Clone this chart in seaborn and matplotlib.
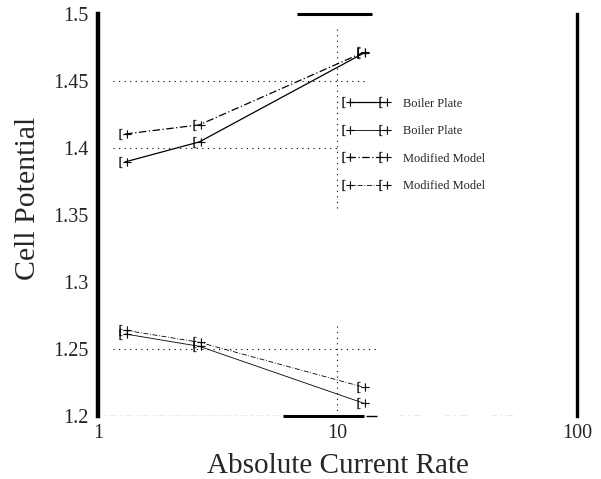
import matplotlib
matplotlib.use("Agg")
import matplotlib.pyplot as plt
import numpy as np
import pandas as pd
import seaborn as sns

# values
rate = [1.3, 2.65, 12.8]
bp_high = [1.3896, 1.4045, 1.4705]
mm_high = [1.4104, 1.4172, 1.4712]
bp_low = [1.2612, 1.2520, 1.2097]
mm_low = [1.2640, 1.2550, 1.2216]
series_names = ["Boiler Plate", "Boiler Plate", "Modified Model", "Modified Model"]

yticks = [1.2, 1.25, 1.3, 1.35, 1.4, 1.45, 1.5]
ytick_labels = ["1.2", "1.25", "1.3", "1.35", "1.4", "1.45", "1.5"]
xticks = [1, 10, 100]
xtick_labels = ["1", "10", "100"]

sns.set_style("white")
plt.rcParams["font.family"] = ["Liberation Serif", "DejaVu Serif"]
plt.rcParams["mathtext.fontset"] = "stix"

fig = plt.figure(figsize=(6.01, 4.79), dpi=100)
ax = fig.add_axes([0.163, 0.1315, 0.797, 0.8395])

all_series = [bp_high, bp_low, mm_high, mm_low]
styles = ["-", "-", (0, (6, 2, 1, 2)), (0, (6, 2, 1, 2))]
widths = [0.9, 0.6, 0.9, 0.6]
for vals, name, ls, lw in zip(all_series, series_names, styles, widths):
    df = pd.DataFrame({"rate": rate, "potential": vals})
    sns.lineplot(data=df, x="rate", y="potential", ax=ax, color="black",
                 linestyle=ls, linewidth=lw, marker="$[+$", markersize=8.5,
                 markeredgewidth=0.2, markeredgecolor="black",
                 markerfacecolor="black", label=name)

# dotted guide lines
ax.hlines([1.45], 1.15, 13.2, colors="black", linestyles=(0, (1, 4)), linewidth=0.8)
ax.hlines([1.40], 1.15, 10.0, colors="black", linestyles=(0, (1, 4)), linewidth=0.8)
ax.hlines([1.25], 1.15, 14.5, colors="black", linestyles=(0, (1, 4)), linewidth=0.8)
ax.vlines([10], 1.355, 1.49, colors="black", linestyles=(0, (1, 4)), linewidth=0.8)
ax.vlines([10], 1.2, 1.27, colors="black", linestyles=(0, (1, 4)), linewidth=0.8)

# broken frame pieces
ax.hlines([1.5], 6.75, 14.0, colors="black", linewidth=2.2, clip_on=False)
ax.hlines([1.2], 5.9, 12.9, colors="black", linewidth=2.2, clip_on=False)
ax.hlines([1.2], 1.05, 5.8, colors="#777777", linestyles=(0, (3, 2, 6, 2)), linewidth=0.9)
ax.hlines([1.2], 13.1, 14.6, colors="black", linewidth=1.0, clip_on=False)
ax.hlines([1.2], 18, 57, colors="#555555", linestyles=(0, (4, 3, 1, 3, 6, 6, 1, 6, 1, 6)), linewidth=0.9)

ax.set_xscale("log")
ax.set_xlim(1, 100)
ax.set_ylim(1.2, 1.5)
ax.set_xticks(xticks)
ax.set_xticklabels(xtick_labels)
ax.minorticks_off()
ax.set_yticks(yticks)
ax.set_yticklabels(ytick_labels)
ax.tick_params(axis="y", length=0, labelsize=14.5, pad=7)
ax.tick_params(axis="x", length=6, width=1.5, direction="inout", labelsize=14.5, pad=3)

for side in ["top", "bottom"]:
    ax.spines[side].set_visible(False)
ax.spines["left"].set_linewidth(3.2)
ax.spines["right"].set_linewidth(2.4)
ax.spines["left"].set_color("black")
ax.spines["right"].set_color("black")

ax.set_xlabel("Absolute Current Rate", fontsize=21, labelpad=7)
ax.set_ylabel("Cell Potential", fontsize=21.5)
ax.yaxis.set_label_coords(-0.118, 0.54)

ax.legend(loc="upper left", bbox_to_anchor=(0.49, 0.82), frameon=False,
          numpoints=2, handlelength=3.6, fontsize=9, labelspacing=1.25,
          handletextpad=1.1)

fig.savefig("out.png", dpi=100)
